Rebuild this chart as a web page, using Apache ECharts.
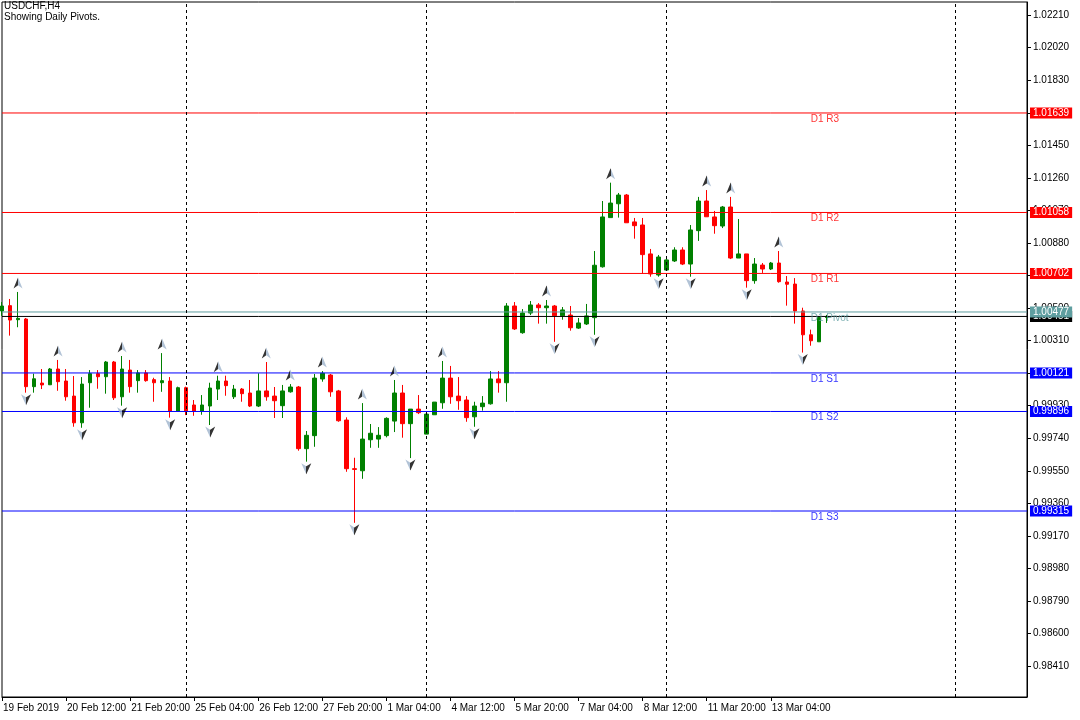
<!DOCTYPE html>
<html><head><meta charset="utf-8">
<script src="https://cdn.jsdelivr.net/npm/echarts@6/dist/echarts.min.js"></script>
<style>html,body{margin:0;padding:0;background:#fff}#c{width:1080px;height:720px}</style>
</head><body><div id="c"></div>
<script>
// ---- data ----
const xTickLabels = ['19 Feb 2019','20 Feb 12:00','21 Feb 20:00','25 Feb 04:00','26 Feb 12:00','27 Feb 20:00','1 Mar 04:00','4 Mar 12:00','5 Mar 20:00','7 Mar 04:00','8 Mar 12:00','11 Mar 20:00','13 Mar 04:00'];
const barsPerLabel = 8;
const totalSlots = 129;
const opens = [1.00483,1.00514,1.00432,1.00436,1.00041,1.00062,1.00052,1.00144,1.00074,0.99986,
0.99830,1.00064,1.00117,1.00099,1.00185,0.99982,1.00138,1.00076,1.00121,1.00082,
1.00064,1.00074,0.99899,1.00035,0.99934,0.99899,0.99928,1.00027,1.00074,0.99982,
1.00027,1.00004,0.99928,1.00016,0.99986,0.99930,1.00011,1.00039,0.99679,0.99755,
1.00086,1.00109,1.00016,0.99846,0.99562,0.99550,0.99731,0.99735,0.99755,0.99840,
1.00004,0.99825,0.99910,0.99764,0.99877,0.99947,1.00091,0.99986,0.99963,0.99865,
0.99924,0.99941,1.00086,1.00064,1.00512,1.00356,1.00471,1.00518,1.00502,1.00512,
1.00455,1.00459,1.00383,1.00407,1.00444,1.00741,1.01028,1.01109,1.01160,1.01003,
1.00985,1.00816,1.00693,1.00722,1.00775,1.00839,1.00757,1.00952,1.01125,1.01032,
1.00979,1.01090,1.00792,1.00816,1.00660,1.00751,1.00728,1.00763,1.00652,1.00640,
1.00483,1.00344,1.00303,1.00445];
const closes = [1.00512,1.00430,1.00440,1.00041,1.00087,1.00051,1.00144,1.00070,0.99982,0.99830,
1.00056,1.00117,1.00099,1.00185,0.99976,1.00144,1.00041,1.00121,1.00076,1.00064,
1.00076,0.99899,1.00035,0.99899,0.99899,0.99934,1.00033,1.00074,1.00047,1.00027,
1.00000,0.99928,1.00016,0.99982,0.99959,1.00016,1.00039,0.99679,0.99757,1.00091,
1.00119,1.00011,0.99842,0.99562,0.99558,0.99735,0.99769,0.99757,0.99856,1.00004,
0.99825,0.99910,0.99889,0.99881,0.99951,1.00091,0.99982,0.99959,0.99860,0.99928,
0.99945,1.00086,1.00064,1.00512,1.00378,1.00471,1.00518,1.00502,1.00512,1.00455,
1.00489,1.00385,1.00413,1.00454,1.00750,1.01032,1.01113,1.01160,1.00998,1.00981,
1.00812,1.00699,1.00798,1.00781,1.00839,1.00757,1.00956,1.01125,1.01033,1.00981,
1.01090,1.00792,1.00816,1.00660,1.00757,1.00728,1.00763,1.00654,1.00639,1.00483,
1.00344,1.00309,1.00446,1.00451];
const highs = [1.00535,1.00553,1.00594,1.00442,1.00117,1.00144,1.00150,1.00197,1.00144,1.00103,
1.00097,1.00138,1.00138,1.00191,1.00191,1.00220,1.00197,1.00138,1.00138,1.00093,
1.00237,1.00097,1.00041,1.00041,0.99963,0.99992,1.00064,1.00105,1.00105,1.00051,
1.00033,1.00080,1.00119,1.00185,1.00039,1.00051,1.00056,1.00045,0.99782,1.00115,
1.00132,1.00115,1.00022,0.99862,0.99626,0.99945,0.99823,0.99805,0.99862,1.00080,
1.00051,0.99910,0.99992,0.99881,0.99951,1.00191,1.00162,1.00097,0.99986,0.99953,
0.99986,1.00132,1.00132,1.00529,1.00535,1.00494,1.00541,1.00529,1.00547,1.00518,
1.00506,1.00512,1.00442,1.00524,1.00833,1.01125,1.01232,1.01172,1.01166,1.01026,
1.01026,1.00845,1.00810,1.00786,1.00855,1.00855,1.00985,1.01149,1.01189,1.01067,
1.01096,1.01149,1.01020,1.00816,1.00792,1.00763,1.00769,1.00833,1.00687,1.00675,
1.00502,1.00374,1.00449,1.00460];
const lows = [1.00454,1.00339,1.00388,1.00006,1.00006,1.00027,1.00051,1.00017,0.99959,0.99807,
0.99801,0.99918,1.00029,1.00000,0.99963,0.99930,1.00006,1.00006,1.00070,0.99953,
1.00011,0.99860,0.99899,0.99875,0.99871,0.99877,0.99817,0.99963,0.99988,0.99969,
0.99953,0.99922,0.99922,0.99959,0.99858,0.99858,1.00006,0.99667,0.99603,0.99690,
1.00070,0.99982,0.99836,0.99544,0.99246,0.99503,0.99684,0.99684,0.99745,0.99776,
0.99743,0.99624,0.99881,0.99764,0.99877,0.99912,0.99941,0.99906,0.99836,0.99807,
0.99901,0.99936,1.00006,0.99953,1.00372,1.00350,1.00459,1.00409,1.00409,1.00303,
1.00432,1.00368,1.00378,1.00401,1.00344,1.00736,1.01028,1.01028,1.00998,1.00905,
1.00701,1.00683,1.00683,1.00722,1.00769,1.00751,1.00683,1.00892,1.01033,1.00934,
1.00967,1.00786,1.00792,1.00619,1.00642,1.00705,1.00722,1.00648,1.00514,1.00409,
1.00240,1.00280,1.00303,1.00413];
const fractalUpBars = [2,7,15,20,27,33,36,40,45,49,55,68,76,88,91,97];
const fractalDownBars = [3,10,15,21,26,38,44,51,59,69,74,82,86,93,100];
const separatorBars = [23,53,83,119];
const pivotNames = ['D1 R3','D1 R2','D1 R1','D1 Pivot','D1 S1','D1 S2','D1 S3'];
const pivotValues = [1.01639,1.01058,1.00702,1.00477,1.00121,0.99896,0.99315];
const pivotLabelBar = 101;
const currentPrice = 1.00451;
const yTicks = [0.98410,0.98600,0.98790,0.98980,0.99170,0.99360,0.99550,0.99740,0.99930,1.00120,
1.00310,1.00500,1.00690,1.00880,1.01070,1.01260,1.01450,1.01640,1.01830,1.02020,1.02210];
const yMin = 0.98229, yMax = 1.02287;

// ---- build ----
const FONT = 'Liberation Sans';
const categories = [];
for (let i = 0; i < totalSlots; i++) {
  const k = i / barsPerLabel;
  categories.push(Number.isInteger(k) && k < xTickLabels.length ? xTickLabels[k] : String(i));
}
const lastSlot = totalSlots - 1;
const xTickIdx = xTickLabels.map((_, k) => k * barsPerLabel);
const candleData = opens.map((o, i) => [o, closes[i], lows[i], highs[i]]);
const upData = fractalUpBars.map(i => [i, highs[i]]);
const downData = fractalDownBars.map(i => [i, lows[i]]);
const pivotColor = n => n.indexOf('R') >= 0 ? '#ff0000' : (n.indexOf('S') >= 0 ? '#0000ff' : '#5f9ea0');

const levelSeries = (value, color) => ({
  type: 'line', data: [[0, value], [lastSlot, value]], showSymbol: false, symbol: 'none',
  silent: true, z: 3, clip: false,
  lineStyle: { color: color, width: 1, type: 'solid' },
  itemStyle: { color: color },
  endLabel: {
    show: true, formatter: value.toFixed(5), distance: 3,
    backgroundColor: color, color: '#fff', fontFamily: FONT, fontSize: 10,
    lineHeight: 11, padding: [0, 3, 0, 3]
  }
});
const levels = [levelSeries(currentPrice, '#000')];
pivotNames.forEach((n, k) => levels.push(levelSeries(pivotValues[k], pivotColor(n))));
const vLines = separatorBars.map(i => ({ xAxis: i }));

const grad = (leftDark) => new echarts.graphic.LinearGradient(0, 0, 1, 0, leftDark ? [
  { offset: 0, color: '#000' }, { offset: 0.5, color: '#000' }, { offset: 0.5, color: '#9fb4cc' }, { offset: 1, color: '#9fb4cc' }
] : [
  { offset: 0, color: '#9fb4cc' }, { offset: 0.5, color: '#9fb4cc' }, { offset: 0.5, color: '#000' }, { offset: 1, color: '#000' }
]);

const chart = echarts.init(document.getElementById('c'), null, { renderer: 'canvas' });
chart.setOption({
  animation: false,
  backgroundColor: '#fff',
  title: {
    text: 'USDCHF,H4\nShowing Daily Pivots.', left: 4, top: 1, padding: 0,
    textStyle: { fontFamily: FONT, fontSize: 10, fontWeight: 'normal', color: '#000', lineHeight: 11 }
  },
  grid: { left: 2, top: 2, right: 53, bottom: 23, show: true, borderColor: '#000', borderWidth: 1, backgroundColor: 'transparent' },
  xAxis: {
    type: 'category', data: categories, boundaryGap: false,
    axisLine: { show: true, lineStyle: { color: '#000', width: 1 } },
    axisTick: { show: true, length: 4, interval: 7, customValues: xTickIdx, lineStyle: { color: '#000' } },
    axisLabel: {
      customValues: xTickIdx, interval: 7, align: 'left', margin: 6, padding: [0, 0, 0, 1],
      fontFamily: FONT, fontSize: 10, color: '#000',
      formatter: v => /^\d+$/.test(v) ? '' : v
    },
    splitLine: { show: false }
  },
  yAxis: {
    type: 'value', position: 'right', min: yMin, max: yMax, scale: true,
    axisLine: { show: true, lineStyle: { color: '#000', width: 1 } },
    axisTick: { show: true, length: 4, customValues: yTicks, lineStyle: { color: '#000' } },
    axisLabel: { customValues: yTicks, formatter: v => v.toFixed(5), margin: 6, fontFamily: FONT, fontSize: 10, color: '#000' },
    splitLine: { show: false }
  },
  series: [
    {
      type: 'candlestick', data: candleData, barWidth: 4, z: 2,
      itemStyle: { color: '#008000', color0: '#ff0000', borderColor: '#008000', borderColor0: '#ff0000', borderWidth: 1 },
      markLine: {
        silent: true, symbol: ['none', 'none'], animation: false,
        lineStyle: { color: '#000', type: [3, 3], width: 1 }, label: { show: false },
        data: vLines
      }
    },
    {
      type: 'scatter', data: upData, symbol: 'path://M5,0L10,14L5,10L0,14Z', symbolSize: [9, 11], symbolOffset: [0, -9],
      itemStyle: { color: grad(true) }, silent: true, z: 4
    },
    {
      type: 'scatter', data: downData, symbol: 'path://M0,0L5,4L10,0L5,14Z', symbolSize: [10, 11], symbolOffset: [0, 7],
      itemStyle: { color: grad(false) }, silent: true, z: 4
    },
    ...levels,
    {
      type: 'scatter', symbolSize: 0, silent: true, z: 5,
      data: pivotValues.map((v, k) => ({
        value: [pivotLabelBar, v],
        label: { show: true, position: [0, 1], formatter: pivotNames[k], color: pivotColor(pivotNames[k]), fontFamily: FONT, fontSize: 10 }
      }))
    }
  ]
});
</script>
</body></html>
